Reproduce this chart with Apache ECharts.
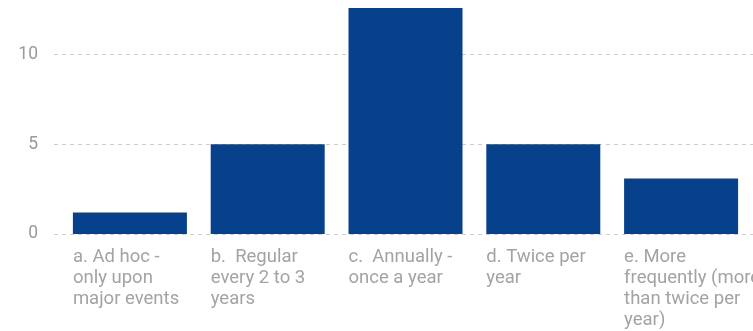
<!DOCTYPE html>
<html>
<head>
<meta charset="utf-8">
<script src="https://cdn.jsdelivr.net/npm/echarts@6/dist/echarts.min.js"></script>
<style>html,body{margin:0;padding:0;background:#fff;overflow:hidden;}#c{width:753px;height:366px;margin-top:-35px;}</style>
</head>
<body>
<div id="c"></div>
<script>
var categories = [
  "a. Ad hoc -\nonly upon\nmajor events",
  "b.  Regular\nevery 2 to 3\nyears",
  "c.  Annually -\nonce a year",
  "d. Twice per\nyear",
  "e. More\nfrequently (more\nthan twice per\nyear)"
];
var values = [1.2, 5, 12.6, 5, 3.1];
var yTicks = [0, 5, 10, 15];

var chart = echarts.init(document.getElementById('c'), null, {renderer: 'canvas'});
var font = 'Roboto, "Noto Sans", sans-serif';
chart.setOption({
  animation: false,
  grid: [
    {left: 61, right: 3, top: 0, bottom: 97, containLabel: false, outerBoundsMode: 'none'},
    {left: 54, right: 0, top: 0, bottom: 97, containLabel: false, outerBoundsMode: 'none'}
  ],
  xAxis: [
    {type: 'category', gridIndex: 0, data: categories, show: false},
    {type: 'value', gridIndex: 1, show: false}
  ],
  yAxis: [
    {type: 'value', gridIndex: 0, min: yTicks[0], max: yTicks[yTicks.length - 1], interval: 5, show: false},
    {
      type: 'value', gridIndex: 1, min: yTicks[0], max: yTicks[yTicks.length - 1], interval: 5,
      axisLine: {show: false}, axisTick: {show: false},
      axisLabel: {color: '#999', fontSize: 17.5, fontFamily: font, margin: 16},
      splitLine: {lineStyle: {color: '#ccc', type: [4, 4], width: 1}}
    }
  ],
  series: [{
    type: 'bar',
    xAxisIndex: 0, yAxisIndex: 0,
    data: values,
    barWidth: 114,
    itemStyle: {color: '#07418b'},
    label: {
      show: true,
      position: [0, '100%'],
      offset: [0, 13],
      align: 'left',
      verticalAlign: 'top',
      color: '#a3a3a3',
      fontSize: 18.5,
      lineHeight: 21,
      fontFamily: font,
      formatter: function (p) { return categories[p.dataIndex]; }
    }
  }]
});
</script>
</body>
</html>
